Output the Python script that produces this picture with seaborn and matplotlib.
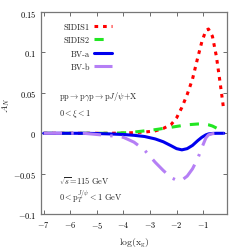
import matplotlib
matplotlib.use("Agg")
import matplotlib.pyplot as plt
import seaborn as sns
import pandas as pd
import numpy as np
from matplotlib.lines import Line2D

sns.set_theme(style="ticks")
plt.rcParams['font.family'] = ['cmr10', 'DejaVu Serif']
plt.rcParams['mathtext.fontset'] = 'cm'
plt.rcParams['axes.formatter.use_mathtext'] = True

x_common = [-7, -6.5, -6, -5.5, -5, -4.5, -4, -3.6, -3.2, -2.8, -2.5, -2.2, -2.0,
            -1.8, -1.6, -1.4, -1.2, -1.05, -0.9, -0.8, -0.65, -0.5, -0.35, -0.22]
sidis1 = [0, 0, 0, 0, 0, 0, 0.0003, 0.0008, 0.0015, 0.003, 0.006, 0.011, 0.019,
          0.032, 0.048, 0.067, 0.094, 0.113, 0.127, 0.129, 0.12, 0.095, 0.06, 0.028]
sidis2 = [0, 0, 0, 0, 0, 0, 0.0005, 0.0015, 0.003, 0.0045, 0.006, 0.0075, 0.0085,
          0.0095, 0.0105, 0.011, 0.0115, 0.0115, 0.011, 0.0105, 0.009, 0.0065, 0.004, np.nan]
bva = [0, 0, 0, 0, -0.0003, -0.0008, -0.0015, -0.0025, -0.004, -0.007, -0.0105, -0.0155,
       -0.019, -0.0205, -0.019, -0.015, -0.009, -0.005, -0.002, -0.0008, -0.0002, 0, 0, 0]
bvb = [0, 0, 0, 0, -0.0015, -0.003, -0.005, -0.011, -0.021, -0.036, -0.046, -0.055,
       -0.058, -0.058, -0.053, -0.044, -0.031, -0.018, -0.006, -0.002, -0.0005, 0, 0, 0]

labels = ["SIDIS1", "SIDIS2", "BV-a", "BV-b"]
colors = ["#ff0000", "#22e622", "#0000ee", "#b57ff5"]
dash_styles = [(1.2, 1.6), (3.0, 3.0), (), (6, 3, 0.8, 3)]

rows = []
for lab, vals in zip(labels, [sidis1, sidis2, bva, bvb]):
    for xv, yv in zip(x_common, vals):
        rows.append({"x": xv, "y": yv, "series": lab})
df = pd.DataFrame(rows).dropna()

fig = plt.figure(figsize=(2.4, 2.51), dpi=100)
ax = fig.add_axes([0.171, 0.143, 0.775, 0.805])

sns.lineplot(data=df, x="x", y="y", hue="series", style="series",
             palette=dict(zip(labels, colors)), dashes=dict(zip(labels, dash_styles)),
             hue_order=labels, style_order=labels, linewidth=2.2, ax=ax, legend=False)

ax.set_xlim(-7.1, -0.1)
ax.set_ylim(-0.1, 0.15)
ax.set_xticks([-7, -6, -5, -4, -3, -2, -1])
ax.set_yticks([-0.1, -0.05, 0, 0.05, 0.1, 0.15])
ax.set_yticklabels(["$-0.1$", "$-0.05$", "$0$", "$0.05$", "$0.1$", "$0.15$"])
ax.set_xticklabels(["$-7$", "$-6$", "$-5$", "$-4$", "$-3$", "$-2$", "$-1$"])
ax.tick_params(direction="in", length=3, width=0.6, labelsize=6, top=True, right=True,
               colors="#555555", labelcolor="black")
for s in ax.spines.values():
    s.set_color("#777777")
    s.set_linewidth(0.9)

ax.set_xlabel(r"$\log(\mathrm{x_g})$", fontsize=7, labelpad=4)
ax.set_ylabel(r"$A_N$", fontsize=7)
ax.yaxis.set_label_coords(-0.155, 0.545)

handles = []
for c, d in zip(colors, dash_styles):
    if d:
        handles.append(Line2D([0], [0], color=c, lw=2.2, dashes=d))
    else:
        handles.append(Line2D([0], [0], color=c, lw=2.2))
ax.legend(handles, labels, loc="upper left", bbox_to_anchor=(0.095, 0.975), frameon=False,
          markerfirst=False, fontsize=6, handlelength=2.1, labelspacing=0.62,
          handletextpad=0.5, borderaxespad=0.2)

ax.text(-6.44, 0.047, r"$\mathrm{pp}\rightarrow\mathrm{p}\gamma\mathrm{p}\rightarrow\mathrm{p}J/\psi\mathrm{+X}$",
        fontsize=6, va="center")
ax.text(-6.44, 0.025, r"$0<\xi<1$", fontsize=6, va="center")
ax.text(-6.44, -0.058, r"$\sqrt{s}$=115 GeV", fontsize=6, va="center")
ax.text(-6.44, -0.078, r"$0<\mathrm{p}_T^{J/\psi}<1$ GeV", fontsize=6, va="center")

fig.savefig("out.png", dpi=100)
